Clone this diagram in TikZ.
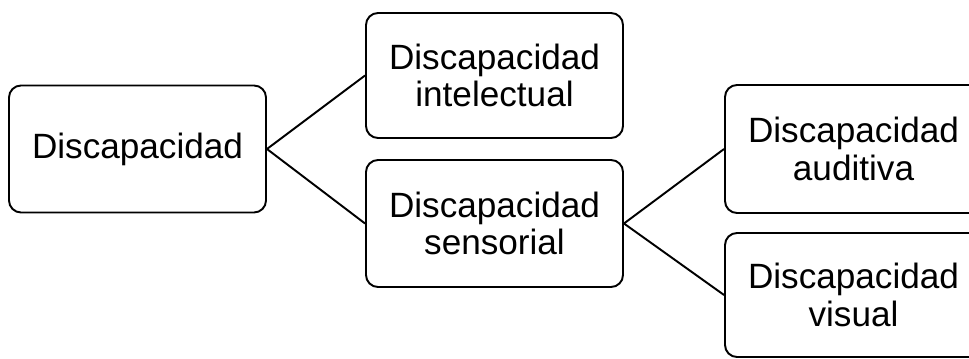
\documentclass[tikz,border=0pt]{standalone}
\usepackage{fontspec}
\setmainfont{Liberation Sans}
\usetikzlibrary{positioning}
\tikzset{
  catbox/.style={draw,line width=1.1pt,rounded corners=0.24cm,align=center,
    minimum width=5.14cm,minimum height=2.54cm,inner sep=2pt,
    font=\fontsize{20}{21.5}\selectfont},
  link/.style={line width=1.1pt}
}
\begin{document}
\begin{tikzpicture}
  \useasboundingbox (0,0) rectangle (19.38,7.16);
  \clip (0,0) rectangle (19.38,7.16);
  \node[catbox] (disc) at (2.75,4.18) {Discapacidad};
  \node[catbox,minimum height=2.5cm] (intel) at (9.89,5.65) {Discapacidad\\intelectual};
  \node[catbox] (sens) at (9.89,2.69) {Discapacidad\\sensorial};
  \node[catbox,minimum height=2.56cm] (audi) at (17.07,4.18) {Discapacidad\\auditiva};
  \node[catbox,minimum height=2.48cm] (visu) at (17.07,1.26) {Discapacidad\\visual};
  \draw[link] (disc.east)--(intel.west);
  \draw[link] (disc.east)--(sens.west);
  \draw[link] (sens.east)--(audi.west);
  \draw[link] (sens.east)--(visu.west);
\end{tikzpicture}
\end{document}
